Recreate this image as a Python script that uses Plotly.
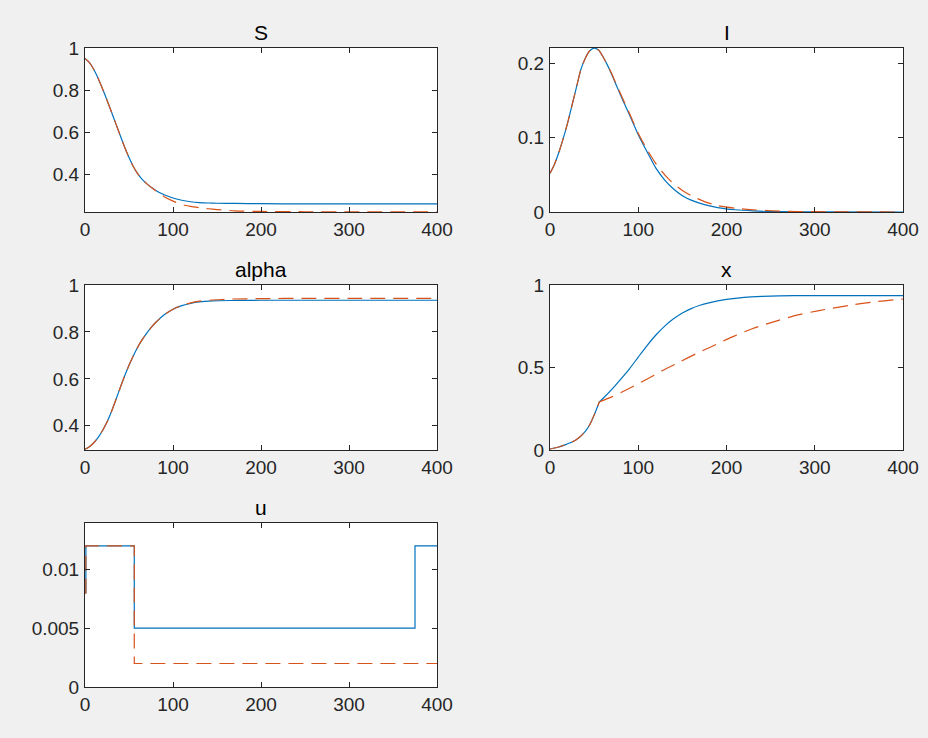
import plotly.graph_objects as go

# ---------------- data ----------------
# S panel
t_S = [0, 5, 10, 15, 20, 25, 30, 35, 40, 45, 50, 55, 60, 65, 70, 80, 90, 100, 110, 120, 130, 140, 150, 170, 200, 250, 300, 400]
S_blue = [0.950, 0.931, 0.898, 0.856, 0.806, 0.753, 0.698, 0.642, 0.586, 0.531, 0.481, 0.438, 0.404, 0.378, 0.358, 0.327, 0.305, 0.290, 0.279, 0.272, 0.268, 0.266, 0.265, 0.264, 0.263, 0.262, 0.262, 0.262]
S_orange = [0.950, 0.931, 0.898, 0.856, 0.806, 0.753, 0.698, 0.642, 0.586, 0.531, 0.481, 0.438, 0.404, 0.378, 0.358, 0.325, 0.296, 0.275, 0.259, 0.250, 0.244, 0.239, 0.235, 0.229, 0.226, 0.2248, 0.2245, 0.2245]

# I panel
t_I = [0, 5, 10, 15, 20, 25, 30, 35, 40, 45, 50, 55, 60, 65, 70, 75, 80, 85, 90, 100, 110, 120, 130, 140, 150, 160, 175, 190, 210, 230, 260, 300, 400]
I_blue = [0.052, 0.064, 0.080, 0.099, 0.120, 0.144, 0.168, 0.192, 0.207, 0.217, 0.2205, 0.218, 0.209, 0.198, 0.185, 0.171, 0.157, 0.144, 0.131, 0.104, 0.081, 0.059, 0.043, 0.031, 0.022, 0.016, 0.010, 0.006, 0.003, 0.0015, 0.0005, 0.0001, 0.0]
I_orange = [0.052, 0.064, 0.080, 0.099, 0.120, 0.144, 0.168, 0.192, 0.207, 0.217, 0.2205, 0.218, 0.209, 0.198, 0.186, 0.172, 0.159, 0.146, 0.133, 0.106, 0.084, 0.065, 0.050, 0.038, 0.029, 0.022, 0.014, 0.0085, 0.005, 0.003, 0.0012, 0.0004, 0.0]

# alpha panel
t_A = [0, 5, 10, 15, 20, 25, 30, 35, 40, 45, 50, 55, 60, 65, 70, 75, 80, 90, 100, 110, 120, 130, 145, 165, 200, 250, 300, 400]
A_blue = [0.300, 0.311, 0.328, 0.351, 0.380, 0.416, 0.460, 0.510, 0.562, 0.612, 0.658, 0.699, 0.736, 0.767, 0.794, 0.818, 0.839, 0.873, 0.897, 0.912, 0.922, 0.928, 0.932, 0.934, 0.935, 0.935, 0.935, 0.935]
A_orange = [0.300, 0.311, 0.328, 0.351, 0.380, 0.416, 0.460, 0.510, 0.562, 0.612, 0.658, 0.699, 0.736, 0.767, 0.794, 0.818, 0.839, 0.873, 0.897, 0.913, 0.924, 0.931, 0.936, 0.940, 0.942, 0.943, 0.943, 0.943]

# x panel (both runs identical until the switch at t ~ 56)
t_X_early = [0, 10, 17, 25, 32, 40, 45, 51, 56]
X_early = [0.006, 0.018, 0.031, 0.048, 0.071, 0.113, 0.153, 0.224, 0.292]
t_X_blue = [56, 60, 70, 80, 90, 100, 110, 120, 130, 140, 150, 160, 170, 180, 190, 200, 220, 240, 260, 290, 400]
X_blue = [0.292, 0.312, 0.367, 0.428, 0.492, 0.563, 0.633, 0.697, 0.751, 0.795, 0.830, 0.857, 0.877, 0.892, 0.904, 0.913, 0.925, 0.931, 0.934, 0.936, 0.936]
t_X_orange = [56, 70, 89, 108, 127, 146, 165, 184, 206, 229, 259, 282, 305, 343, 370, 400]
X_orange = [0.292, 0.322, 0.371, 0.424, 0.480, 0.531, 0.582, 0.629, 0.684, 0.735, 0.786, 0.820, 0.845, 0.880, 0.899, 0.915]

# u panel (piecewise constant control)
t_u = [0, 1, 56, 375, 400]
u_blue = [0.008, 0.012, 0.005, 0.012, 0.012]
u_orange = [0.008, 0.012, 0.002, 0.002, 0.002]

titles = ["S", "I", "alpha", "x", "u"]
x_ticks = [0, 100, 200, 300, 400]
y_ticks = [[0.4, 0.6, 0.8, 1], [0, 0.1, 0.2], [0.4, 0.6, 0.8, 1], [0, 0.5, 1], [0, 0.005, 0.01]]
y_ticktext = [["0.4", "0.6", "0.8", "1"], ["0", "0.1", "0.2"], ["0.4", "0.6", "0.8", "1"], ["0", "0.5", "1"], ["0", "0.005", "0.01"]]
y_ranges = [[0.2235, 1.0], [0, 0.2207], [0.297, 1.0], [0, 1.0], [0, 0.01395]]

# ---------------- styling ----------------
BLUE = "#0072BD"
ORANGE = "#D95319"
W, H = 928, 738
FONT = "Liberation Sans, Arial, Helvetica, sans-serif"
AX = "#262626"
BG = "#f0f0f0"

# plot areas in pixels (left, right, top, bottom)
boxes = [
    (85, 437, 48, 212),
    (550, 903, 48, 212),
    (85, 437, 285, 450),
    (550, 903, 285, 450),
    (85, 437, 523, 687),
]

fig = go.Figure()

def add_line(i, x, y, color, dash, shape="spline"):
    ax = "" if i == 0 else str(i + 1)
    fig.add_trace(go.Scatter(
        x=x, y=y, mode="lines",
        line=dict(color=color, width=1.2, dash=dash, shape=shape,
                  **({"smoothing": 0.6} if shape == "spline" else {})),
        xaxis="x" + ax, yaxis="y" + ax, showlegend=False, hoverinfo="skip"))

DASH = "15px,8px"
add_line(0, t_S, S_blue, BLUE, "solid")
add_line(0, t_S, S_orange, ORANGE, DASH)
add_line(1, t_I, I_blue, BLUE, "solid")
add_line(1, t_I, I_orange, ORANGE, DASH)
add_line(2, t_A, A_blue, BLUE, "solid")
add_line(2, t_A, A_orange, ORANGE, DASH)
add_line(3, t_X_early, X_early, BLUE, "solid")
add_line(3, t_X_blue, X_blue, BLUE, "solid")
add_line(3, t_X_early, X_early, ORANGE, DASH)
add_line(3, t_X_orange, X_orange, ORANGE, DASH)
add_line(4, t_u, u_blue, BLUE, "solid", shape="hv")
add_line(4, t_u, u_orange, ORANGE, DASH, shape="hv")

layout = dict(
    width=W, height=H,
    margin=dict(l=0, r=0, t=0, b=0, autoexpand=False),
    paper_bgcolor=BG,
    plot_bgcolor="#ffffff",
    annotations=[],
)

for i, (l, r, t, b) in enumerate(boxes):
    sfx = "" if i == 0 else str(i + 1)
    common = dict(
        showline=True, linecolor=AX, linewidth=1, mirror="allticks",
        ticks="inside", ticklen=5, tickcolor=AX, tickwidth=1,
        showgrid=False, zeroline=False,
        tickfont=dict(family=FONT, size=19, color=AX),
    )
    layout["xaxis" + sfx] = dict(
        domain=[l / W, r / W], anchor="y" + sfx, range=[0, 400],
        tickvals=x_ticks, ticktext=[str(v) for v in x_ticks],
        ticklabelstandoff=0, **common)
    layout["yaxis" + sfx] = dict(
        domain=[1 - b / H, 1 - t / H], anchor="x" + sfx, range=y_ranges[i],
        tickvals=y_ticks[i], ticktext=y_ticktext[i],
        ticklabelstandoff=1, **common)
    layout["annotations"].append(dict(
        text=titles[i], xref="paper", yref="paper",
        x=(l + r) / 2 / W, y=1 - t / H, xanchor="center", yanchor="bottom",
        yshift=2, showarrow=False,
        font=dict(family=FONT, size=21, color="#000000")))

fig.update_layout(**layout)
fig.write_html("out.html",
               post_script="document.body.style.margin='0';document.body.style.background='%s';" % BG)
